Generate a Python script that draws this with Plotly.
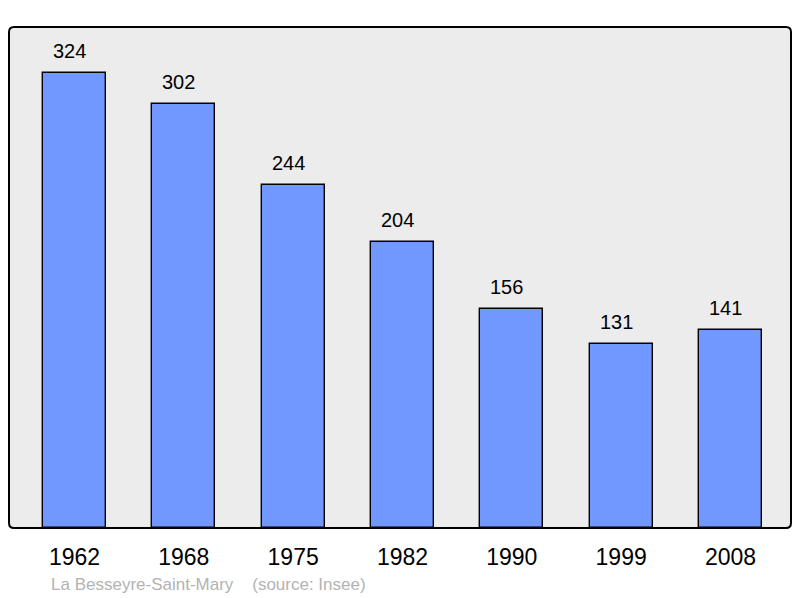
import plotly.graph_objects as go

years = ["1962", "1968", "1975", "1982", "1990", "1999", "2008"]
population = [324, 302, 244, 204, 156, 131, 141]
footer = "La Besseyre-Saint-Mary&nbsp;&nbsp;&nbsp;&nbsp;(source: Insee)"

xs = list(range(len(years)))
font = "Liberation Sans, Arial, sans-serif"

fig = go.Figure()
fig.add_trace(go.Bar(
    x=xs, y=population, width=0.576,
    marker=dict(color="#7098ff", line=dict(color="#000000", width=1.4)),
    hoverinfo="skip",
))

for x, v in zip(xs, population):
    fig.add_annotation(x=x, y=v, text=str(v), showarrow=False, yanchor="bottom",
                       yshift=9, xshift=-5, font=dict(family=font, size=20, color="#000000"))

fig.add_annotation(xref="paper", yref="paper", x=(49 - 9) / 782, y=-(584 - 528) / 501,
                   xanchor="left", yanchor="middle", text=footer, showarrow=False,
                   font=dict(family=font, size=17, color="#b3b3b3"))

# rounded frame (radius ~5px)
rx, ry = 5 / 782, 5 / 501
frame = (f"M {rx},0 L {1-rx},0 Q 1,0 1,{ry} L 1,{1-ry} Q 1,1 {1-rx},1 "
         f"L {rx},1 Q 0,1 0,{1-ry} L 0,{ry} Q 0,0 {rx},0 Z")
fig.add_shape(type="path", xref="paper", yref="paper", path=frame,
              line=dict(width=0), fillcolor="#ececec", layer="below")
fig.add_shape(type="path", xref="paper", yref="paper", path=frame,
              line=dict(color="#000000", width=2), fillcolor="rgba(0,0,0,0)", layer="above")

# page body has an 8px default margin, so the margins are offset by it
fig.update_layout(
    width=800, height=598,
    margin=dict(l=1, r=17, t=19, b=78),
    paper_bgcolor="#ffffff", plot_bgcolor="#ffffff",
    showlegend=False,
    xaxis=dict(range=[-0.599, 6.5535], tickvals=xs, ticktext=years, showgrid=False,
               zeroline=False, ticks="", ticklabelstandoff=13,
               tickfont=dict(family=font, size=23, color="#000000"), fixedrange=True),
    yaxis=dict(range=[0, 356.8], showgrid=False, zeroline=False, showticklabels=False,
               ticks="", fixedrange=True),
    bargap=0,
)

fig.write_html("out.html")
